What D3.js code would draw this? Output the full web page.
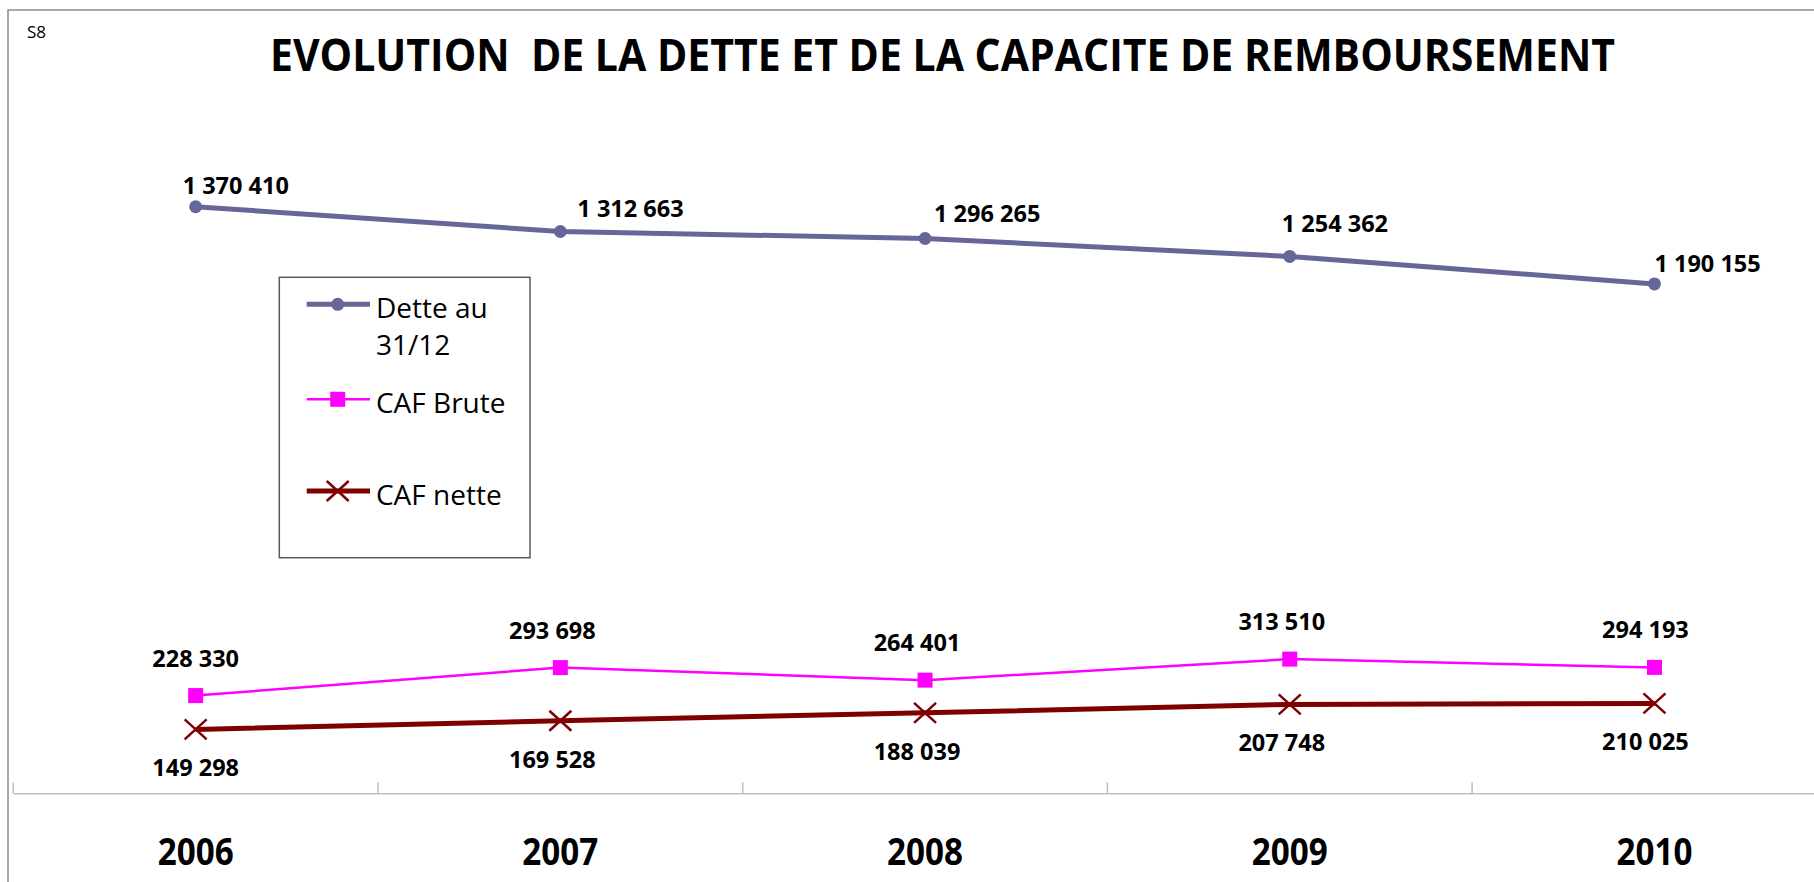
<!DOCTYPE html>
<html>
<head>
<meta charset="utf-8">
<script src="https://cdn.jsdelivr.net/npm/d3@7"></script>
<style>
  body { margin: 0; background: #fff; }
  svg { display: block; font-family: "Open Sans", "DejaVu Sans", sans-serif; }
</style>
</head>
<body>
<div id="chart"></div>
<script>
// values
var years = ["2006", "2007", "2008", "2009", "2010"];
var dette = [1370410, 1312663, 1296265, 1254362, 1190155];
var cafBrute = [228330, 293698, 264401, 313510, 294193];
var cafNette = [149298, 169528, 188039, 207748, 210025];
var yMax = 1600000;

// label nudges (Excel labels were moved by hand)
var detteDx = [-13, 17, 9, -8, 0];
var detteDy = [-13, -14, -16, -24, -12];
var smallDx = [0, -8, -8, -8, -9];

var width = 1814, height = 882;

var svg = d3.select("#chart").append("svg")
    .attr("width", width)
    .attr("height", height);

// outer frame (only top and left visible)
svg.append("path")
    .attr("d", "M8," + height + "V10H" + width)
    .attr("fill", "none")
    .attr("stroke", "#8c8c8c")
    .attr("stroke-width", 1.5);

svg.append("text")
    .attr("x", 27).attr("y", 38)
    .attr("font-size", 17)
    .text("S8");

svg.append("text")
    .attr("x", 270).attr("y", 71)
    .attr("font-size", 45)
    .attr("font-weight", "bold")
    .attr("textLength", 1345)
    .attr("lengthAdjust", "spacingAndGlyphs")
    .style("white-space", "pre")
    .text("EVOLUTION  DE LA DETTE ET DE LA CAPACITE DE REMBOURSEMENT");

var x = d3.scaleBand()
    .domain(years)
    .range([13.3, 13.3 + 5 * 364.7])
    .padding(0);

var y = d3.scaleLinear()
    .domain([0, yMax])
    .range([793.3, 108.5]);

function cx(i) { return x(years[i]) + x.bandwidth() / 2; }

// category axis
var axis = svg.append("g")
    .attr("transform", "translate(0," + y(0) + ")")
    .call(d3.axisBottom(x).tickSize(0).tickPadding(0));
axis.select(".domain")
    .attr("stroke", "#bfbfbf")
    .attr("stroke-width", 1.5);
axis.selectAll(".tick text")
    .attr("y", 72)
    .attr("dy", 0)
    .attr("fill", "#000")
    .attr("font-family", "'Open Sans', sans-serif")
    .attr("font-size", 38)
    .attr("font-weight", "bold")
    .attr("textLength", 76)
    .attr("lengthAdjust", "spacingAndGlyphs");

// tick marks on band edges, pointing up
svg.append("g").selectAll("line")
    .data(years.concat(["end"]))
    .enter().append("line")
    .attr("x1", function (d, i) { return x.range()[0] + i * x.step(); })
    .attr("x2", function (d, i) { return x.range()[0] + i * x.step(); })
    .attr("y1", y(0))
    .attr("y2", y(0) - 11)
    .attr("stroke", "#bfbfbf")
    .attr("stroke-width", 1.5);

var fmt = function (v) { return d3.format(",")(v).replace(/,/g, " "); };

var series = [
    { name: ["Dette au", "31/12"], values: dette, color: "#666699", width: 5, marker: "circle" },
    { name: ["CAF Brute"], values: cafBrute, color: "#ff00ff", width: 2.5, marker: "square" },
    { name: ["CAF nette"], values: cafNette, color: "#800000", width: 5, marker: "cross" }
];

function drawMarker(g, type, color) {
    if (type == "circle") {
        g.append("circle").attr("r", 6.5).attr("fill", color);
    } else if (type == "square") {
        g.append("rect")
            .attr("x", -7.5).attr("y", -7.5)
            .attr("width", 15).attr("height", 15)
            .attr("fill", color);
    } else {
        g.append("path")
            .attr("d", "M-11,-10L11,10M-11,10L11,-10")
            .attr("stroke", color)
            .attr("stroke-width", 2.5)
            .attr("fill", "none");
    }
}

var line = d3.line()
    .x(function (d, i) { return cx(i); })
    .y(function (d) { return y(d); });

series.forEach(function (s) {
    svg.append("path")
        .datum(s.values)
        .attr("d", line)
        .attr("fill", "none")
        .attr("stroke", s.color)
        .attr("stroke-width", s.width)
        .attr("stroke-linejoin", "round");

    s.values.forEach(function (v, i) {
        var g = svg.append("g")
            .attr("transform", "translate(" + cx(i) + "," + y(v) + ")");
        drawMarker(g, s.marker, s.color);
    });
});

// data labels
svg.append("g").selectAll("text")
    .data(dette)
    .enter().append("text")
    .attr("x", function (d, i) { return cx(i) + detteDx[i]; })
    .attr("y", function (d, i) { return y(d) + detteDy[i]; })
    .attr("font-size", 23.5)
    .attr("font-weight", "bold")
    .text(fmt);

svg.append("g").selectAll("text")
    .data(cafBrute)
    .enter().append("text")
    .attr("x", function (d, i) { return cx(i) + smallDx[i]; })
    .attr("y", function (d) { return y(d) - 29; })
    .attr("text-anchor", "middle")
    .attr("font-size", 23.5)
    .attr("font-weight", "bold")
    .text(fmt);

svg.append("g").selectAll("text")
    .data(cafNette)
    .enter().append("text")
    .attr("x", function (d, i) { return cx(i) + smallDx[i]; })
    .attr("y", function (d) { return y(d) + 47; })
    .attr("text-anchor", "middle")
    .attr("font-size", 23.5)
    .attr("font-weight", "bold")
    .text(fmt);

// legend
var legend = svg.append("g").attr("transform", "translate(279.3,277.3)");
legend.append("rect")
    .attr("width", 250.7)
    .attr("height", 280.4)
    .attr("fill", "#fff")
    .attr("stroke", "#595959")
    .attr("stroke-width", 1.5);

var rowY = [27, 122, 213.7];
series.forEach(function (s, i) {
    var row = legend.append("g").attr("transform", "translate(0," + rowY[i] + ")");
    row.append("line")
        .attr("x1", 27.4).attr("x2", 90.7)
        .attr("stroke", s.color)
        .attr("stroke-width", s.width);
    drawMarker(row.append("g").attr("transform", "translate(58.4,0)"), s.marker, s.color);
    var t = row.append("text")
        .attr("x", 96.7)
        .attr("y", 13.5)
        .attr("font-size", 28);
    s.name.forEach(function (n, k) {
        t.append("tspan")
            .attr("x", 96.7)
            .attr("dy", k == 0 ? 0 : 37)
            .text(n);
    });
});
</script>
</body>
</html>
